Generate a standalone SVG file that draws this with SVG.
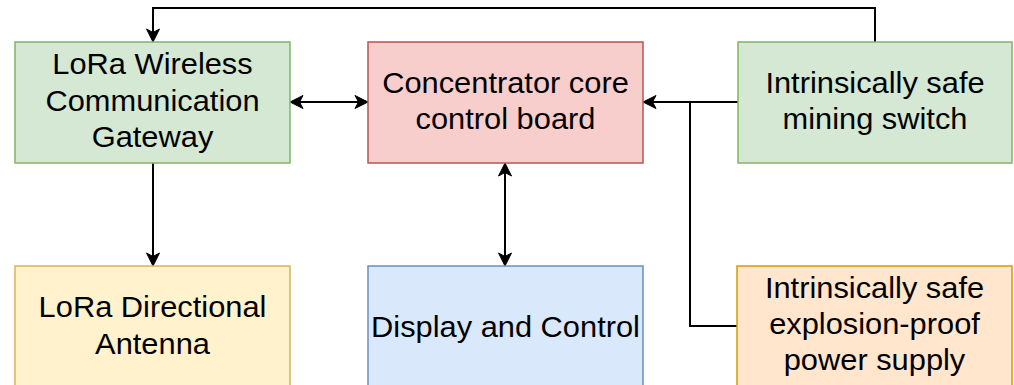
<svg xmlns="http://www.w3.org/2000/svg" width="1014" height="385" viewBox="0 0 1014 385">
  <style>
    .box { stroke-width: 1.5; }
    .green { fill: #d5e8d4; stroke: #82b366; }
    .red { fill: #f8cecc; stroke: #b85450; }
    .yellow { fill: #fff2cc; stroke: #d6b656; }
    .blue { fill: #dae8fc; stroke: #6c8ebf; }
    .orange { fill: #ffe6cc; stroke: #d79b00; }
    .label { font-family: "Liberation Sans", Arial, sans-serif; font-size: 29.5px; fill: #000000; text-anchor: middle; }
    .wire { fill: none; stroke: #000000; stroke-width: 2; }
  </style>
  <defs>
    <marker id="arrow" markerUnits="userSpaceOnUse" viewBox="-10 -8 16 16" markerWidth="16" markerHeight="16" refX="0" refY="0" orient="auto-start-reverse">
      <path d="M4,0 L-9,-6.5 L-5.5,0 L-9,6.5 Z" fill="#000000" stroke="#000000" stroke-width="1"/>
    </marker>
  </defs>

  <rect width="1014" height="385" fill="#ffffff"/>

  <g id="connectors">
    <!-- mining switch loops over the top into the gateway -->
    <path class="wire" d="M875,42 V8 H153 V38" marker-end="url(#arrow)"/>
    <!-- gateway to / from core board -->
    <path class="wire" d="M294,102 H364" marker-start="url(#arrow)" marker-end="url(#arrow)"/>
    <!-- mining switch into core board -->
    <path class="wire" d="M738,102 H647" marker-end="url(#arrow)"/>
    <!-- power supply joins the switch feed -->
    <path class="wire" d="M737,326 H690 V102"/>
    <!-- gateway down to antenna -->
    <path class="wire" d="M153,163 V262" marker-end="url(#arrow)"/>
    <!-- core board to / from display -->
    <path class="wire" d="M505,167 V262" marker-start="url(#arrow)" marker-end="url(#arrow)"/>
  </g>

  <g id="gateway">
    <rect class="box green" x="15" y="42" width="275" height="121"/>
    <g transform="translate(152.5 0) scale(1.045 1)">
      <text class="label" x="0" y="74.5">LoRa Wireless</text>
      <text class="label" x="0" y="111">Communication</text>
      <text class="label" x="0" y="147.5">Gateway</text>
    </g>
  </g>

  <g id="core-board">
    <rect class="box red" x="368" y="42" width="275" height="121"/>
    <g transform="translate(505.5 0) scale(1.045 1)">
      <text class="label" x="0" y="93">Concentrator core</text>
      <text class="label" x="0" y="129.5">control board</text>
    </g>
  </g>

  <g id="mining-switch">
    <rect class="box green" x="738" y="42" width="274" height="121"/>
    <g transform="translate(875 0) scale(1.045 1)">
      <text class="label" x="0" y="93">Intrinsically safe</text>
      <text class="label" x="0" y="129.5">mining switch</text>
    </g>
  </g>

  <g id="antenna">
    <rect class="box yellow" x="15" y="266" width="275" height="121"/>
    <g transform="translate(152.5 0) scale(1.045 1)">
      <text class="label" x="0" y="317">LoRa Directional</text>
      <text class="label" x="0" y="354">Antenna</text>
    </g>
  </g>

  <g id="display">
    <rect class="box blue" x="368" y="266" width="275" height="121"/>
    <g transform="translate(505.5 0) scale(1.045 1)">
      <text class="label" x="0" y="337">Display and Control</text>
    </g>
  </g>

  <g id="power-supply">
    <rect class="box orange" x="737" y="266" width="275" height="121"/>
    <g transform="translate(874.5 0) scale(1.045 1)">
      <text class="label" x="0" y="298">Intrinsically safe</text>
      <text class="label" x="0" y="334">explosion-proof</text>
      <text class="label" x="0" y="370">power supply</text>
    </g>
  </g>
</svg>
